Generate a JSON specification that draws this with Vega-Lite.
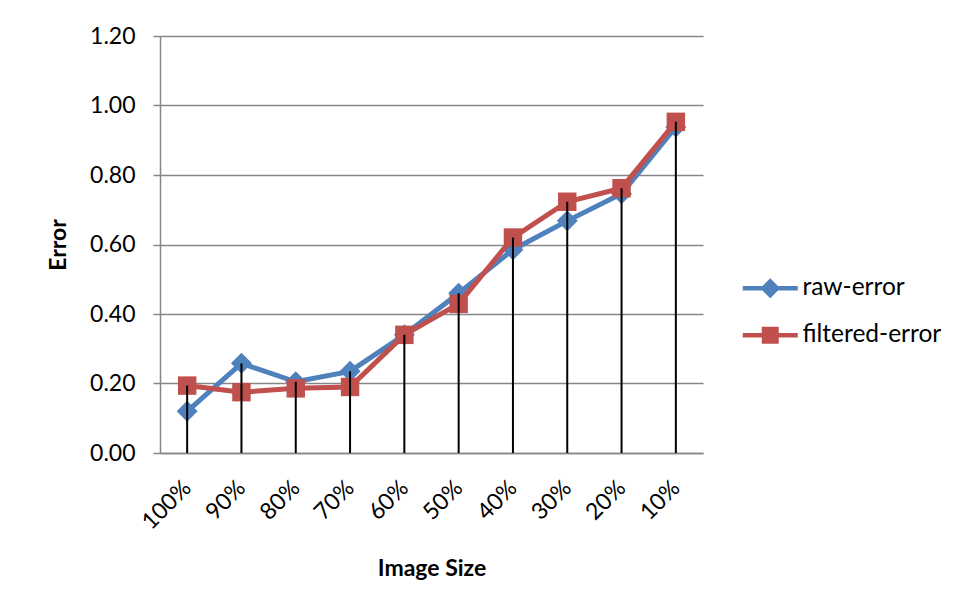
{
  "$schema": "https://vega.github.io/schema/vega-lite/v6.json",
  "autosize": {"type": "none"},
  "width": 543,
  "height": 417,
  "padding": {"left": 160, "top": 36, "right": 257, "bottom": 157},
  "background": "white",
  "config": {
    "font": "Lato",
    "view": {"stroke": null},
    "axis": {
      "labelFont": "Lato",
      "labelFontSize": 23,
      "labelColor": "#000000",
      "titleFont": "Lato",
      "titleFontSize": 23,
      "titleFontWeight": "bold",
      "titleColor": "#000000",
      "domainColor": "#868686",
      "domainWidth": 1.5,
      "tickColor": "#868686",
      "tickWidth": 1.5,
      "gridColor": "#868686",
      "gridWidth": 1.5
    }
  },
  "data": {
    "values": [
      {"size": "100%", "series": "raw-error", "error": 0.12},
      {"size": "90%", "series": "raw-error", "error": 0.258},
      {"size": "80%", "series": "raw-error", "error": 0.205},
      {"size": "70%", "series": "raw-error", "error": 0.235},
      {"size": "60%", "series": "raw-error", "error": 0.34},
      {"size": "50%", "series": "raw-error", "error": 0.46},
      {"size": "40%", "series": "raw-error", "error": 0.585},
      {"size": "30%", "series": "raw-error", "error": 0.668},
      {"size": "20%", "series": "raw-error", "error": 0.746},
      {"size": "10%", "series": "raw-error", "error": 0.938},
      {"size": "100%", "series": "filtered-error", "error": 0.194},
      {"size": "90%", "series": "filtered-error", "error": 0.175},
      {"size": "80%", "series": "filtered-error", "error": 0.186},
      {"size": "70%", "series": "filtered-error", "error": 0.19},
      {"size": "60%", "series": "filtered-error", "error": 0.34},
      {"size": "50%", "series": "filtered-error", "error": 0.429},
      {"size": "40%", "series": "filtered-error", "error": 0.62},
      {"size": "30%", "series": "filtered-error", "error": 0.723},
      {"size": "20%", "series": "filtered-error", "error": 0.762},
      {"size": "10%", "series": "filtered-error", "error": 0.953}
    ]
  },
  "encoding": {
    "x": {
      "field": "size",
      "type": "ordinal",
      "sort": ["100%", "90%", "80%", "70%", "60%", "50%", "40%", "30%", "20%", "10%"],
      "scale": {"type": "point", "padding": 0.5},
      "axis": {
        "title": "Image Size",
        "labelAngle": -45,
        "labelAlign": "right",
        "labelBaseline": "middle",
        "labelPadding": 31,
        "ticks": false,
        "grid": false,
        "titlePadding": 24
      }
    },
    "y": {
      "field": "error",
      "type": "quantitative",
      "scale": {"domain": [0, 1.2], "nice": false, "zero": true},
      "axis": {
        "title": "Error",
        "values": [0, 0.2, 0.4, 0.6, 0.8, 1.0, 1.2],
        "format": ".2f",
        "tickSize": 7,
        "labelPadding": 18,
        "titlePadding": 19,
        "grid": true
      }
    }
  },
  "layer": [
    {
      "transform": [{"filter": "datum.series === 'raw-error'"}],
      "mark": {"type": "line", "color": "#4F81BD", "strokeWidth": 5}
    },
    {
      "transform": [{"filter": "datum.series === 'raw-error'"}],
      "mark": {"type": "point", "shape": "diamond", "filled": true, "color": "#4F81BD", "opacity": 1, "size": 440}
    },
    {
      "transform": [{"filter": "datum.series === 'filtered-error'"}],
      "mark": {"type": "line", "color": "#C0504D", "strokeWidth": 5}
    },
    {
      "transform": [{"filter": "datum.series === 'filtered-error'"}],
      "mark": {"type": "point", "shape": "square", "filled": true, "color": "#C0504D", "opacity": 1, "size": 340}
    },
    {
      "mark": {"type": "rule", "color": "#000000", "strokeWidth": 2},
      "encoding": {
        "y": {"aggregate": "max", "field": "error", "type": "quantitative"},
        "y2": {"datum": 0}
      }
    },
    {
      "transform": [{"filter": "false"}],
      "mark": {"type": "point", "filled": true, "opacity": 1},
      "encoding": {
        "color": {
          "field": "series",
          "type": "nominal",
          "scale": {"domain": ["raw-error", "filtered-error"], "range": ["#4F81BD", "#C0504D"]},
          "legend": {
            "title": null,
            "orient": "none",
            "legendX": 598,
            "legendY": 240,
            "padding": 0,
            "symbolSize": 400,
            "symbolOpacity": 1,
            "symbolStrokeWidth": 0,
            "labelFont": "Lato",
            "labelFontSize": 24.5,
            "labelColor": "#000000",
            "labelOffset": 20,
            "rowPadding": 22
          }
        },
        "shape": {
          "field": "series",
          "type": "nominal",
          "scale": {
            "domain": ["raw-error", "filtered-error"],
            "range": [
              "M-2.75,-0.22H2.75V0.22H-2.75Z M0,-1L1,0L0,1L-1,0Z",
              "M-2.75,-0.22H2.75V0.22H-2.75Z M-0.85,-0.85H0.85V0.85H-0.85Z"
            ]
          }
        }
      }
    }
  ]
}
